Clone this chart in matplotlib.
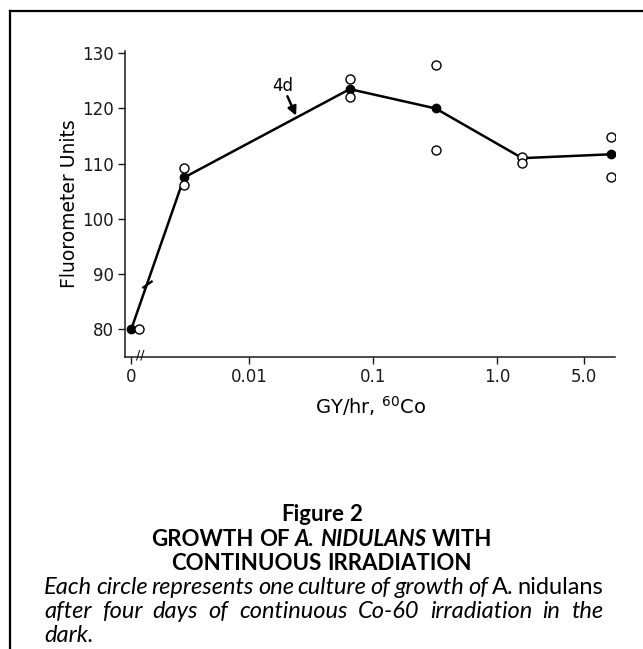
"""
Growth of A. nidulans under continuous Co-60 irradiation (Figure 2).
"""

import matplotlib

matplotlib.use("Agg")
import matplotlib.pyplot as plt
import matplotlib.transforms as mtransforms
from matplotlib.lines import Line2D
import numpy as np

# dose rate (Gy/hr); 0 is drawn on the broken part of the axis
doses = [0.0, 0.003, 0.065, 0.32, 1.6, 8.3]
mean_units = [80.0, 107.5, 123.5, 120.0, 111.0, 111.7]
culture_a = [80.0, 109.2, 125.3, 127.8, 111.2, 114.8]
culture_b = [80.0, 106.1, 122.0, 112.4, 110.1, 107.5]

tick_doses = [0.0, 0.01, 0.1, 1.0, 5.0]
tick_labels = ["0", "0.01", "0.1", "1.0", "5.0"]
y_ticks = [80, 90, 100, 110, 120, 130]

ZERO_POS = -2.95  # where dose 0 sits on the log axis


def dose_pos(d):
    d = np.asarray(d, dtype=float)
    out = np.full(d.shape, ZERO_POS)
    nz = d > 0
    out[nz] = np.log10(d[nz])
    return out


W, H = 643, 649
fig = plt.figure(figsize=(W / 100, H / 100), dpi=100)
fig.patch.set_facecolor("white")

# frame lines of the page box
fig.add_artist(Line2D([10 / W, 1.0], [1 - 11 / H, 1 - 11 / H], color="black", lw=1.6))
fig.add_artist(Line2D([10 / W, 10 / W], [0.0, 1 - 11 / H], color="black", lw=1.6))

ax = fig.add_axes([125 / W, 1 - 357 / H, (615 - 125) / W, (357 - 51) / H])
ax.set_xlim(-3.0, 0.952)
ax.set_ylim(75, 130.4)

for side in ("top", "right"):
    ax.spines[side].set_visible(False)
for side in ("left", "bottom"):
    ax.spines[side].set_linewidth(1.1)
    ax.spines[side].set_color("#1a1a1a")

xs = dose_pos(doses)
ax.plot(xs, mean_units, color="black", lw=1.8, marker="o", ms=6,
        markerfacecolor="black", markeredgecolor="black", zorder=3)

open_style = dict(ls="none", marker="o", ms=6.5, markerfacecolor="white",
                  markeredgecolor="black", markeredgewidth=1.0, zorder=4)
ax.plot(xs[1:], culture_a[1:], **open_style)
ax.plot(xs[1:], culture_b[1:], **open_style)
# the zero-dose cultures overlap; one is drawn beside the mean
shifted = mtransforms.offset_copy(ax.transData, fig=fig, x=8, y=0, units="dots")
ax.plot(xs[:1], culture_a[:1], transform=shifted, **open_style)

# break mark on the first segment
t = 0.3
bx = xs[0] + t * (xs[1] - xs[0])
by = mean_units[0] + t * (mean_units[1] - mean_units[0])
ax.plot([bx], [by], marker=(2, 0, -55), ms=9, mew=1.6, color="black", zorder=5)

# break mark on the x axis
ax.text(-2.88, 75.3, "//", ha="center", va="center", fontsize=9, color="black",
        clip_on=False, zorder=6)

ax.set_xticks(dose_pos(tick_doses))
ax.set_xticklabels(tick_labels)
ax.set_yticks(y_ticks)
ax.tick_params(direction="out", length=5, width=1.0, labelsize=12, colors="#1a1a1a", pad=3)

ax.set_ylabel("Fluorometer Units", fontsize=13.5, labelpad=2)
ax.set_xlabel("GY/hr, $^{60}$Co", fontsize=14, labelpad=6)

# "4d" label with its arrow onto the curve
ax.text(-1.73, 124.0, "4d", fontsize=12, ha="center", va="center")
ax.annotate("", xy=(-1.62, 118.7), xytext=(-1.69, 122.2),
            arrowprops=dict(arrowstyle="-|>", color="black", lw=1.8,
                            shrinkA=0, shrinkB=0, mutation_scale=13))

# ---- caption ----
renderer = fig.canvas.get_renderer()
CAP_FONT = "Lato"


def text_width(s, **kw):
    t = fig.text(0, 0, s, **kw)
    w = t.get_window_extent(renderer).width
    t.remove()
    return w


def draw_runs(runs, y_px, x_left=None, target=None):
    """runs: list of (word, style dict). Words laid out with spaces; justified if target set."""
    widths = [text_width(w, **st) for w, st in runs]
    space = text_width("a a", **runs[0][1]) - text_width("aa", **runs[0][1])
    if target is not None:
        gap = (target - sum(widths)) / (len(runs) - 1)
    else:
        gap = space
    total = sum(widths) + gap * (len(runs) - 1)
    x = x_left if x_left is not None else (W - total) / 2
    for (w, st), wd in zip(runs, widths):
        fig.text(x / W, 1 - y_px / H, w, ha="left", va="baseline", **st)
        x += wd + gap


bold = dict(family=CAP_FONT, fontweight="bold", fontsize=16)
bold_it = dict(bold, style="italic")
ital = dict(family=CAP_FONT, style="italic", fontsize=17)
roman = dict(family=CAP_FONT, fontsize=17)

draw_runs([("Figure", bold), ("2", bold)], 521)
draw_runs([("GROWTH", bold), ("OF", bold), ("A.", bold_it), ("NIDULANS", bold_it),
           ("WITH", bold)], 546)
draw_runs([("CONTINUOUS", bold), ("IRRADIATION", bold)], 570)

line1 = [(w, ital) for w in "Each circle represents one culture of growth of".split()]
line1 += [("A.", roman), ("nidulans", roman)]
draw_runs(line1, 594, x_left=44, target=603 - 44)
line2 = [(w, ital) for w in "after four days of continuous Co-60 irradiation in the".split()]
draw_runs(line2, 618, x_left=44, target=603 - 44)
draw_runs([("dark.", ital)], 642, x_left=44)

fig.savefig("out.png", dpi=100, facecolor="white")
plt.close(fig)
